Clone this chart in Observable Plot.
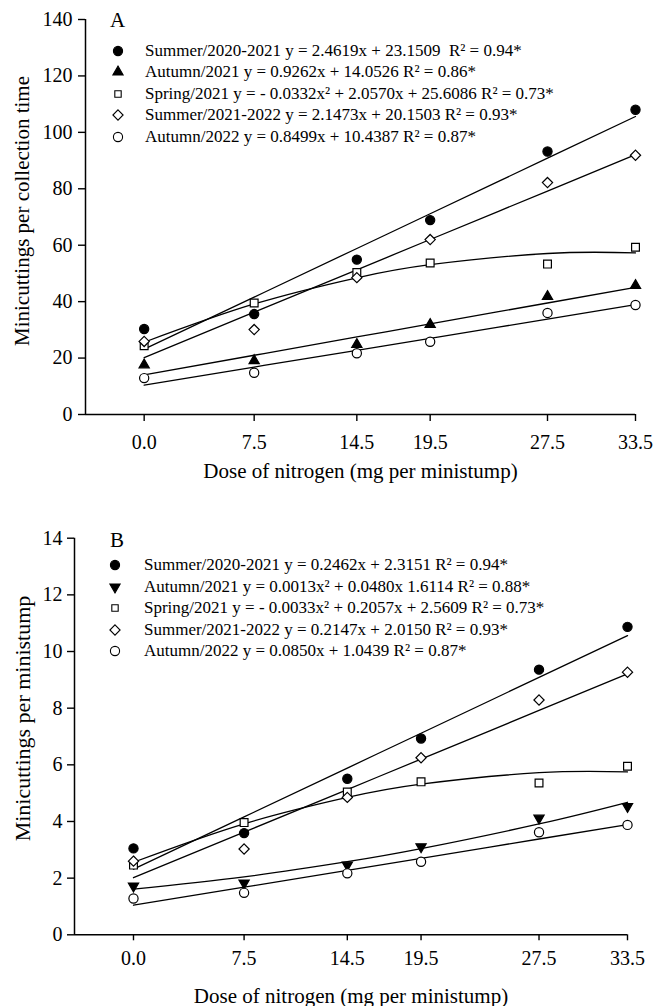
<!DOCTYPE html>
<html><head><meta charset="utf-8">
<script src="https://cdn.jsdelivr.net/npm/d3@7"></script>
<script src="https://cdn.jsdelivr.net/npm/@observablehq/plot@0.6"></script>
<style>
html,body{margin:0;padding:0;background:#fff;}
body{font-family:"Liberation Serif","Times New Roman",serif;color:#000;}
.panel{position:relative;width:659px;}
.panel svg{display:block;}
.panel svg, .panel svg text{font-family:"Liberation Serif","Times New Roman",serif !important;}
.tag{position:absolute;font-size:21px;line-height:22px;}
.row{position:absolute;left:0;height:22px;width:600px;}
.row svg{position:absolute;top:0;}
.row span{position:absolute;top:0;font-size:17px;line-height:22px;white-space:pre;}
</style></head><body><div id="chart"></div><script>
// ---------- data ----------
const doses = [0, 7.5, 14.5, 19.5, 27.5, 33.5];
const doseLabels = ["0.0", "7.5", "14.5", "19.5", "27.5", "33.5"];
const seriesNames = ["Summer/2020-2021", "Autumn/2021", "Spring/2021", "Summer/2021-2022", "Autumn/2022"];

// Panel A: minicuttings per collection time
const aSummer2021 = [30.3, 35.6, 54.9, 68.9, 93.2, 108.0];
const aAutumn2021 = [17.6, 19.1, 24.8, 31.9, 41.8, 45.7];
const aSpring2021 = [24.4, 39.5, 50.3, 53.7, 53.3, 59.3];
const aSummer2022 = [25.9, 30.1, 48.5, 62.0, 82.2, 91.9];
const aAutumn2022 = [12.9, 14.8, 21.7, 25.8, 36.0, 38.8];
// regression coefficients [x², x, constant]
const aCoefSummer2021 = [0, 2.4619, 23.1509];
const aCoefAutumn2021 = [0, 0.9262, 14.0526];
const aCoefSpring2021 = [-0.0332, 2.0570, 25.6086];
const aCoefSummer2022 = [0, 2.1473, 20.1503];
const aCoefAutumn2022 = [0, 0.8499, 10.4387];
const aLegend = [
  "Summer/2020-2021 y = 2.4619x + 23.1509  R² = 0.94*",
  "Autumn/2021 y = 0.9262x + 14.0526 R² = 0.86*",
  "Spring/2021 y = - 0.0332x² + 2.0570x + 25.6086 R² = 0.73*",
  "Summer/2021-2022 y = 2.1473x + 20.1503 R² = 0.93*",
  "Autumn/2022 y = 0.8499x + 10.4387 R² = 0.87*"
];
const aYTicks = [0, 20, 40, 60, 80, 100, 120, 140];

// Panel B: minicuttings per ministump
const bSummer2021 = [3.05, 3.59, 5.51, 6.93, 9.36, 10.87];
const bAutumn2021 = [1.72, 1.83, 2.46, 3.11, 4.12, 4.53];
const bSpring2021 = [2.46, 3.96, 5.04, 5.40, 5.36, 5.95];
const bSummer2022 = [2.60, 3.03, 4.85, 6.25, 8.29, 9.27];
const bAutumn2022 = [1.28, 1.48, 2.17, 2.58, 3.62, 3.88];
const bCoefSummer2021 = [0, 0.2462, 2.3151];
const bCoefAutumn2021 = [0.0013, 0.0480, 1.6114];
const bCoefSpring2021 = [-0.0033, 0.2057, 2.5609];
const bCoefSummer2022 = [0, 0.2147, 2.0150];
const bCoefAutumn2022 = [0, 0.0850, 1.0439];
const bLegend = [
  "Summer/2020-2021 y = 0.2462x + 2.3151 R² = 0.94*",
  "Autumn/2021 y = 0.0013x² + 0.0480x 1.6114 R² = 0.88*",
  "Spring/2021 y = - 0.0033x² + 0.2057x + 2.5609 R² = 0.73*",
  "Summer/2021-2022 y = 0.2147x + 2.0150 R² = 0.93*",
  "Autumn/2022 y = 0.0850x + 1.0439 R² = 0.87*"
];
const bYTicks = [0, 2, 4, 6, 8, 10, 12, 14];

const xTitle = "Dose of nitrogen (mg per ministump)";

// ---------- styles ----------
const serif = "'Liberation Serif', 'Times New Roman', serif";
const triangleDown = {
  draw(context, size) {
    const y = -Math.sqrt(size / (Math.sqrt(3) * 3));
    context.moveTo(0, -y * 2);
    context.lineTo(-Math.sqrt(3) * y, y);
    context.lineTo(Math.sqrt(3) * y, y);
    context.closePath();
  }
};
const styleCircleFilled = {symbol: d3.symbolCircle, fill: "black", r: 4.6};
const styleTriangleUp = {symbol: d3.symbolTriangle, fill: "black", r: 3.8};
const styleTriangleDown = {symbol: triangleDown, fill: "black", r: 3.8};
const styleSquare = {symbol: d3.symbolSquare, fill: "white", r: 4.4};
const styleDiamond = {symbol: d3.symbolDiamond2, fill: "white", r: 4.6};
const styleCircleOpen = {symbol: d3.symbolCircle, fill: "white", r: 4.6};

function makePanel(cfg) {
  const wrap = document.createElement("div");
  wrap.className = "panel";
  const xDomain = [-4, 33.5];
  const marks = [
    Plot.ruleY([cfg.yDomain[0]], {stroke: "black", strokeWidth: 1.5}),
    Plot.ruleX([xDomain[0]], {y1: cfg.yDomain[0], y2: cfg.yDomain[1], stroke: "black", strokeWidth: 1.5}),
    Plot.axisX({ticks: doses, tickFormat: d => doseLabels[doses.indexOf(d)], tickSize: cfg.xTickSize, tickPadding: cfg.xTickPadding, label: null, fontSize: 20, fontFamily: serif, strokeWidth: 1.4}),
    Plot.axisY({ticks: cfg.yTicks, tickSize: 7, tickPadding: cfg.yTickPadding, label: null, fontSize: 20, fontFamily: serif, strokeWidth: 1.4}),
    Plot.text([xTitle], {frameAnchor: "bottom", dy: cfg.xTitleDy, fontSize: 21, fontFamily: serif, lineAnchor: "middle", textAnchor: "middle", text: d => d}),
    Plot.text([cfg.yTitle], {frameAnchor: "left", dx: cfg.yTitleDx, dy: cfg.yTitleDy, rotate: -90, fontSize: cfg.yTitleSize, fontFamily: serif, lineAnchor: "middle", textAnchor: "middle", text: d => d})
  ];
  cfg.values.forEach((vals, i) => {
    const c = cfg.coefs[i];
    const fit = doses.map(x => ({x, y: c[0] * x * x + c[1] * x + c[2]}));
    marks.push(Plot.line(fit, {x: "x", y: "y", curve: "natural", stroke: "black", strokeWidth: 1.3}));
  });
  cfg.values.forEach((vals, i) => {
    const st = cfg.styles[i];
    const pts = doses.map((x, j) => ({x, y: vals[j]}));
    marks.push(Plot.dot(pts, {x: "x", y: "y", symbol: st.symbol, r: st.r, fill: st.fill, stroke: "black", strokeWidth: 1.2}));
  });
  const plot = Plot.plot({
    width: 659,
    height: cfg.height,
    marginTop: cfg.marginTop,
    marginBottom: cfg.marginBottom,
    marginLeft: cfg.marginLeft,
    marginRight: cfg.marginRight,
    style: {fontFamily: serif, fontSize: "20px", color: "black", background: "white", overflow: "visible"},
    x: {domain: xDomain},
    y: {domain: cfg.yDomain},
    marks
  });
  plot.setAttribute("font-family", serif);
  wrap.appendChild(plot);

  const tag = document.createElement("div");
  tag.className = "tag";
  tag.textContent = cfg.tag;
  tag.style.left = cfg.tagLeft + "px";
  tag.style.top = (cfg.tagCenter - 11) + "px";
  wrap.appendChild(tag);

  cfg.legend.forEach((label, i) => {
    const row = document.createElement("div");
    row.className = "row";
    row.style.top = (cfg.legendTop + i * cfg.legendStep - 11) + "px";
    const st = cfg.styles[i];
    const svg = d3.create("svg").attr("width", 14).attr("height", 22)
      .style("left", (cfg.symbolX - 7) + "px");
    const r = st.symbol === d3.symbolSquare ? 3.6 : st.r;
    svg.append("path")
      .attr("transform", "translate(7,11)")
      .attr("d", d3.symbol(st.symbol, Math.PI * r * r)())
      .attr("fill", st.fill).attr("stroke", "black").attr("stroke-width", 1.1);
    row.appendChild(svg.node());
    const span = document.createElement("span");
    span.style.left = cfg.textX + "px";
    span.textContent = label;
    row.appendChild(span);
    wrap.appendChild(row);
  });
  return wrap;
}

const root = document.getElementById("chart");
root.appendChild(makePanel({
  values: [aSummer2021, aAutumn2021, aSpring2021, aSummer2022, aAutumn2022],
  coefs: [aCoefSummer2021, aCoefAutumn2021, aCoefSpring2021, aCoefSummer2022, aCoefAutumn2022],
  styles: [styleCircleFilled, styleTriangleUp, styleSquare, styleDiamond, styleCircleOpen],
  legend: aLegend,
  yTicks: aYTicks, yDomain: [0, 140],
  yTitle: "Minicuttings per collection time",
  height: 490, marginTop: 19, marginBottom: 76, marginLeft: 85, marginRight: 24,
  xTickSize: 7, xTickPadding: 13, yTickPadding: 6,
  xTitleDy: 57, yTitleDx: -63, yTitleDy: -6, yTitleSize: 21,
  tag: "A", tagLeft: 110, tagCenter: 20,
  legendTop: 50.7, legendStep: 21.5, symbolX: 118, textX: 145
}));
root.appendChild(makePanel({
  values: [bSummer2021, bAutumn2021, bSpring2021, bSummer2022, bAutumn2022],
  coefs: [bCoefSummer2021, bCoefAutumn2021, bCoefSpring2021, bCoefSummer2022, bCoefAutumn2022],
  styles: [styleCircleFilled, styleTriangleDown, styleSquare, styleDiamond, styleCircleOpen],
  legend: bLegend,
  yTicks: bYTicks, yDomain: [0, 14],
  yTitle: "Minicuttings per ministump",
  height: 516, marginTop: 47.7, marginBottom: 71.7, marginLeft: 74, marginRight: 32,
  xTickSize: 6, xTickPadding: 10, yTickPadding: 5,
  xTitleDy: 61, yTitleDx: -52, yTitleDy: -18, yTitleSize: 22,
  tag: "B", tagLeft: 110, tagCenter: 50,
  legendTop: 75, legendStep: 21.6, symbolX: 115, textX: 144
}));
</script></body></html>
